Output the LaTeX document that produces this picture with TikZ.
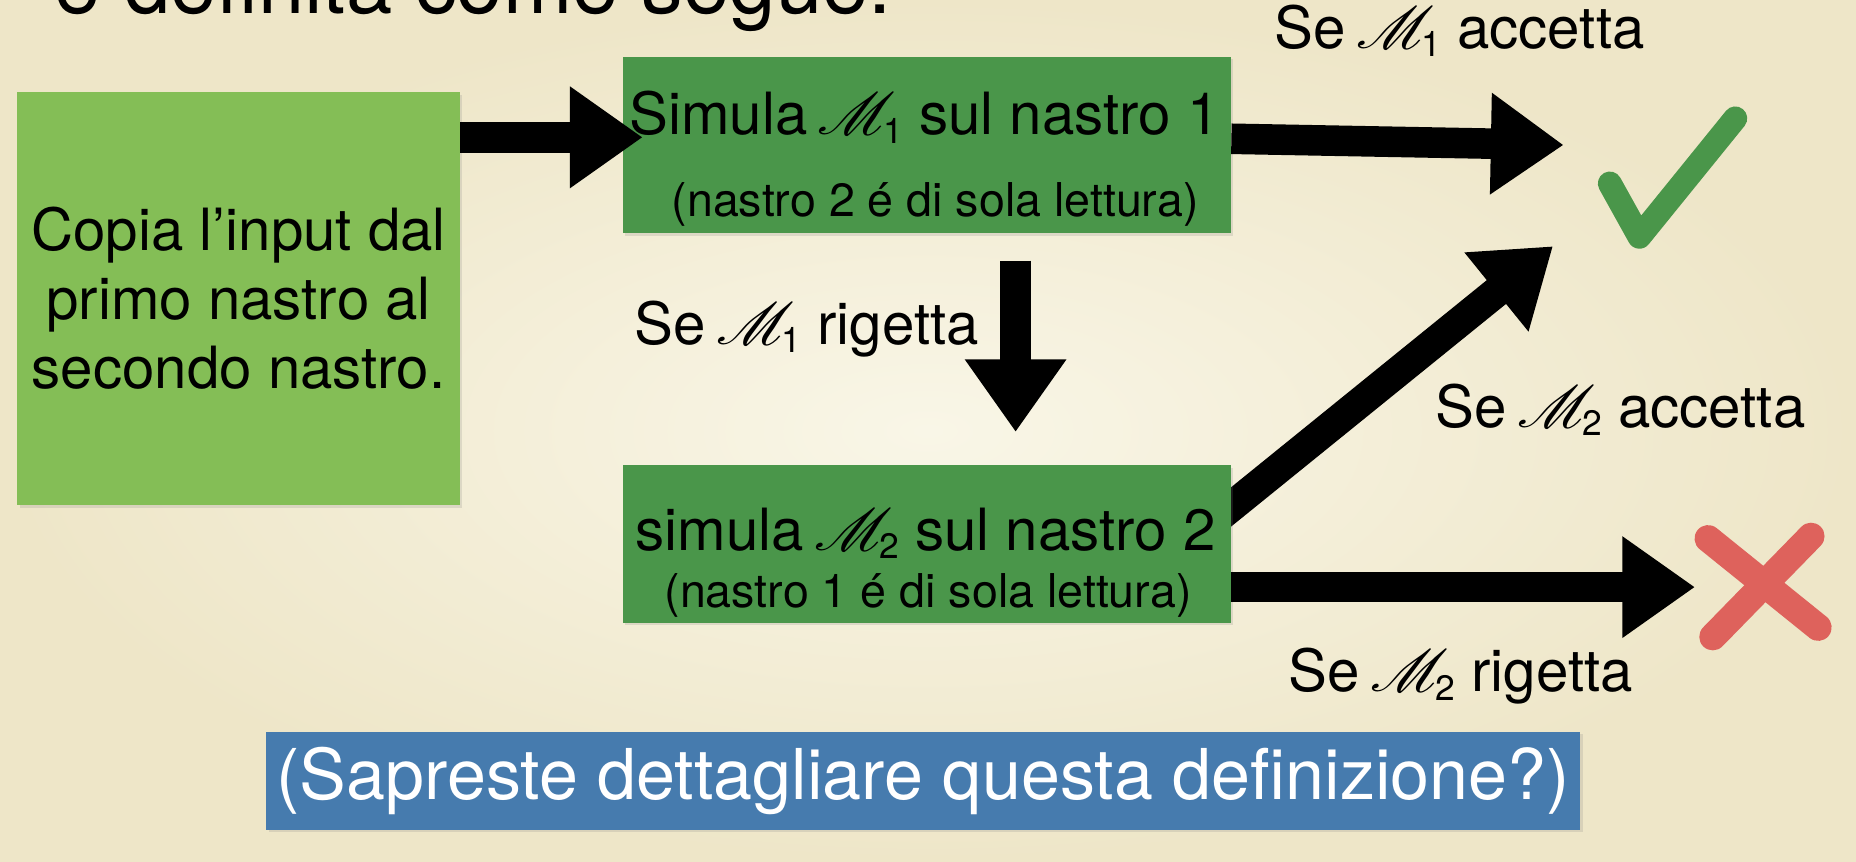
\documentclass[tikz,border=0pt]{standalone}
\usepackage{fontspec}
\setmainfont{TeX Gyre Heros}
\usepackage{graphicx}
\usepackage{mathrsfs}
\usetikzlibrary{arrows.meta,backgrounds,shadows}

\definecolor{lightgreen}{RGB}{132,190,86}
\definecolor{darkgreen}{RGB}{74,150,74}
\definecolor{askblue}{RGB}{70,123,174}
\definecolor{crossred}{RGB}{222,98,92}
\definecolor{bginner}{RGB}{249,246,231}
\definecolor{bgouter}{RGB}{238,230,200}

\newcommand{\machine}[1]{\kern-0.1em\scalebox{1.22}[1.15]{$\mathscr{M}$}\kern-0.22em\raisebox{-0.14em}{\fontsize{17}{17}\selectfont #1}}

\begin{document}
\begin{tikzpicture}[
    x=0.02cm, y=-0.02cm,
    big/.style={font=\fontsize{28}{33.2}\selectfont},
    small/.style={font=\fontsize{22.4}{26}\selectfont},
    soft/.style={drop shadow={opacity=0.2, shadow xshift=1.2pt, shadow yshift=-1.2pt}},
    copybox/.style={fill=lightgreen, soft, minimum width=7.48cm, minimum height=6.98cm, align=center, big},
    simbox/.style={fill=darkgreen, soft, minimum width=10.28cm},
    askbox/.style={fill=askblue, soft, text=white, minimum width=22.2cm, minimum height=1.66cm, font=\fontsize{33.7}{38}\selectfont},
    blk/.style={line width=14.7pt, -{Triangle[length=35pt,width=46.5pt]}},
    okmark/.style={darkgreen, line width=11.5pt, line cap=round, line join=round},
    nomark/.style={crossred, line width=13pt, line cap=round}
  ]
    \useasboundingbox (0,0) rectangle (1568,728);
    \begin{scope}[on background layer]
      \shade[inner color=bginner, outer color=bgouter] (0,0) rectangle (1568,728);
    \end{scope}

    \node[anchor=base west, font=\fontsize{40}{44}\selectfont] (head) at (40,11) {è definita come segue:};

    \node[copybox] (copy) at (201.6,252.2) {Copia l’input dal\\primo nastro al\\secondo nastro.};
    \node[simbox, minimum height=2.98cm] (m1) at (783,122.5) {};
    \node[big, anchor=base] (m1top) at (781,114) {Simula \machine{1} sul nastro 1};
    \node[small, anchor=base] (m1sub) at (790,183) {(nastro 2 é di sola lettura)};
    \node[simbox, minimum height=2.66cm] (m2) at (783,459.5) {};
    \node[big, anchor=base] (m2top) at (782,465) {simula \machine{2} sul nastro 2};
    \node[small, anchor=base] (m2sub) at (784,513) {(nastro 1 é di sola lettura)};
    \node[askbox] (ask) at (780,659.5) {(Sapreste dettagliare questa definizione?)};

    \node[big, anchor=base] (acc1) at (1233,41) {Se \machine{1}\ accetta};
    \node[big, anchor=base] (rej1) at (681.5,291) {Se \machine{1} rigetta};
    \node[big, anchor=base] (acc2) at (1369,361) {Se \machine{2}\ accetta};
    \node[big, anchor=base] (rej2) at (1234,584.5) {Se \machine{2} rigetta};

    % arrow ends
    \coordinate (inA) at (543,116);
    \coordinate (yes1) at (1321,122.5);
    \coordinate (down) at (858,365);
    \coordinate (yes2) at (1312,208);
    \coordinate (no) at (1432,496);

    \draw[blk] (copy.east |- inA) -- (inA);
    \draw[blk] ([yshift=3pt]m1.east) -- (yes1);
    \draw[blk, shorten <=13pt] (m1.south -| down) -- (down);
    \draw[blk] (m2.east |- no) -- (no);
    \begin{scope}[on background layer]
      \draw[blk, shorten <=-12pt] ([yshift=17.9pt]m2.east) -- (yes2);
    \end{scope}

    % check and cross
    \draw[okmark] (1360,155) -- (1385,200) -- (1466,100);
    \draw[nomark] (1443,455) -- (1536,530);
    \draw[nomark] (1530,453) -- (1447,538);
\end{tikzpicture}
\end{document}
